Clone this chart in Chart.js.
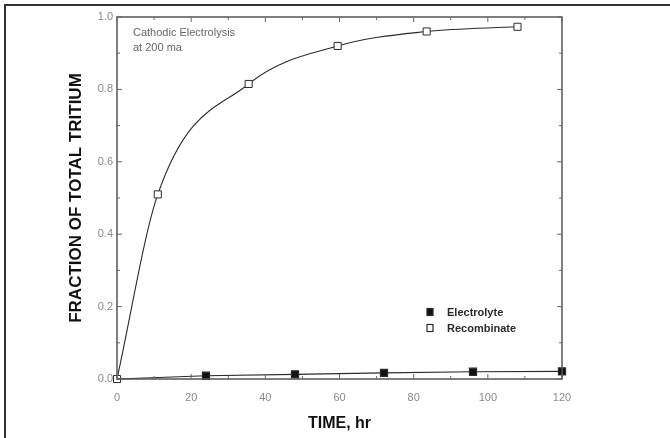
<!DOCTYPE html>
<html>
<head>
<meta charset="utf-8">
<script src="https://cdn.jsdelivr.net/npm/chart.js@4/dist/chart.umd.min.js"></script>
<style>
  html, body { margin: 0; padding: 0; background: #fff; }
  #wrap { width: 670px; height: 438px; }
</style>
</head>
<body>
<div id="wrap"><canvas id="myChart" width="670" height="438"></canvas></div>
<script>
// data
const recombHours = [0, 11, 35.5, 59.5, 83.5, 108];
const recombinate = [0, 0.51, 0.815, 0.92, 0.96, 0.973];
const electroHours = [0, 24, 48, 72, 96, 120];
const electrolyte = [0, 0.009, 0.013, 0.017, 0.02, 0.021];

const xTicks = [0, 20, 40, 60, 80, 100, 120];
const yTicks = [0, 0.2, 0.4, 0.6, 0.8, 1.0];
const note = ['Cathodic Electrolysis', 'at 200 ma'];

const ink = '#2b2b2b';
const grey = '#8a8a8a';

function pts(xs, ys) {
  return xs.map((x, i) => ({ x: x, y: ys[i] }));
}

// frame, inward ticks, legend, note
const decor = {
  id: 'decor',
  afterDraw(chart) {
    const ctx = chart.ctx;
    const a = chart.chartArea;
    const xs = chart.scales.x, ys = chart.scales.y;
    ctx.save();
    // outer page frame
    ctx.strokeStyle = '#333';
    ctx.lineWidth = 2;
    ctx.beginPath();
    ctx.moveTo(5, 438);
    ctx.lineTo(5, 5);
    ctx.lineTo(670, 5);
    ctx.stroke();

    // plot box
    ctx.strokeStyle = '#555';
    ctx.lineWidth = 1.5;
    ctx.strokeRect(a.left, a.top, a.right - a.left, a.bottom - a.top);

    // inward ticks
    ctx.lineWidth = 1;
    ctx.strokeStyle = '#666';
    ctx.beginPath();
    for (let v = 0; v <= 120; v += 10) {
      const px = xs.getPixelForValue(v);
      const len = v % 20 === 0 ? 5 : 3;
      ctx.moveTo(px, a.bottom); ctx.lineTo(px, a.bottom - len);
      ctx.moveTo(px, a.top); ctx.lineTo(px, a.top + len);
    }
    for (let k = 0; k <= 10; k++) {
      const py = ys.getPixelForValue(k / 10);
      const len = k % 2 === 0 ? 5 : 3;
      ctx.moveTo(a.left, py); ctx.lineTo(a.left + len, py);
      ctx.moveTo(a.right, py); ctx.lineTo(a.right - len, py);
    }
    ctx.stroke();

    // note
    ctx.fillStyle = '#666';
    ctx.font = '11px "Liberation Sans", Arial, sans-serif';
    ctx.textBaseline = 'middle';
    ctx.textAlign = 'left';
    ctx.fillText(note[0], a.left + 16, 33);
    ctx.fillText(note[1], a.left + 16, 48);

    // legend
    const lx = 430, ly = [312, 328];
    chart.data.datasets.forEach((ds, i) => {
      ctx.fillStyle = ds.backgroundColor;
      ctx.strokeStyle = ds.borderColor;
      ctx.lineWidth = 1.2;
      ctx.fillRect(lx - 3, ly[i] - 3.5, 6, 7);
      ctx.strokeRect(lx - 3, ly[i] - 3.5, 6, 7);
      ctx.fillStyle = ink;
      ctx.font = 'bold 11px "Liberation Sans", Arial, sans-serif';
      ctx.fillText(ds.label, lx + 17, ly[i] + 1);
    });
    ctx.restore();
  }
};

const data = {
  datasets: [
    {
      label: 'Electrolyte',
      data: pts(electroHours, electrolyte),
      showLine: true,
      clip: false,
      borderColor: ink,
      backgroundColor: '#111',
      borderWidth: 1.2,
      pointStyle: 'rect',
      pointRadius: [0, 5, 5, 5, 5, 5],
      tension: 0
    },
    {
      label: 'Recombinate',
      data: pts(recombHours, recombinate),
      showLine: true,
      clip: false,
      borderColor: ink,
      backgroundColor: '#fff',
      borderWidth: 1.1,
      pointStyle: 'rect',
      pointRadius: 5,
      pointBorderWidth: 1,
      cubicInterpolationMode: 'monotone'
    }
  ]
};

const config = {
  type: 'scatter',
  data: data,
  options: {
    responsive: false,
    animation: false,
    layout: { padding: { left: 66, right: 108, top: 17, bottom: 5 } },
    plugins: { legend: { display: false }, tooltip: { enabled: false } },
    scales: {
      x: {
        type: 'linear',
        min: 0, max: 120,
        afterBuildTicks: s => { s.ticks = xTicks.map(v => ({ value: v })); },
        afterFit: s => { s.height = 54; },
        grid: { display: false, drawTicks: false },
        border: { display: false },
        ticks: { color: grey, padding: 12, font: { size: 11, family: '"Liberation Sans", Arial' } },
        title: {
          display: true, text: 'TIME, hr', color: '#111', padding: 0,
          font: { size: 16, weight: 'bold', family: '"Liberation Sans", Arial' }
        }
      },
      y: {
        type: 'linear',
        min: 0, max: 1,
        afterBuildTicks: s => { s.ticks = yTicks.map(v => ({ value: v })); },
        afterFit: s => { s.width = 51; },
        grid: { display: false, drawTicks: false },
        border: { display: false },
        ticks: {
          color: grey, padding: 4,
          font: { size: 11, family: '"Liberation Sans", Arial' },
          callback: v => Number(v).toFixed(1)
        },
        title: {
          display: true, text: 'FRACTION OF TOTAL TRITIUM', color: '#111', padding: 0,
          font: { size: 17, weight: 'bold', family: '"Liberation Sans", Arial' }
        }
      }
    }
  },
  plugins: [decor]
};

const myChart = new Chart(document.getElementById('myChart'), config);
</script>
</body>
</html>
